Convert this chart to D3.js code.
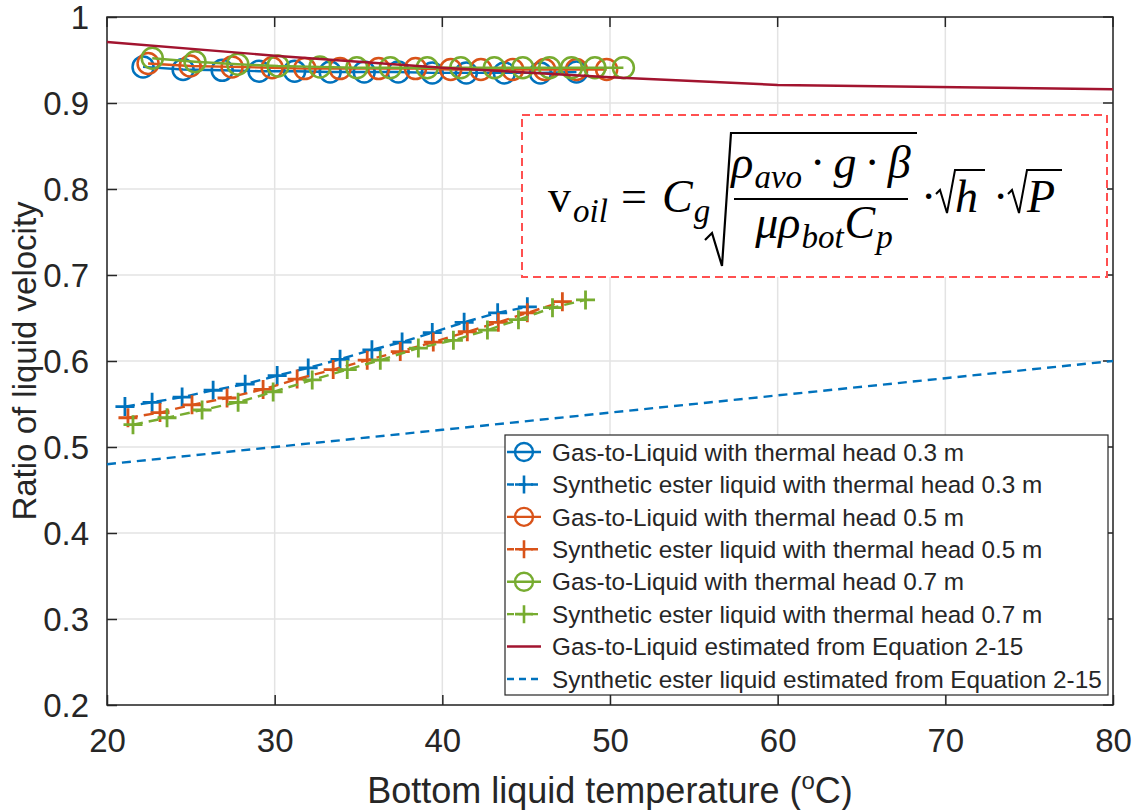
<!DOCTYPE html>
<html><head><meta charset="utf-8">
<script src="https://cdn.jsdelivr.net/npm/d3@7"></script>
<style>
body{margin:0;background:#fff;}
svg text{font-family:"Liberation Sans",Arial,Helvetica,sans-serif;fill:#262626;}
.eq text{font-family:"Liberation Serif","DejaVu Serif",serif;fill:#000;}
</style>
</head><body>
<svg id="c" width="1134" height="810"></svg>
<script>
// ---------- data ----------
const xTicks = [20, 30, 40, 50, 60, 70, 80];
const yTicks = [0.2, 0.3, 0.4, 0.5, 0.6, 0.7, 0.8, 0.9, 1];
const yTickLabels = ["0.2","0.3","0.4","0.5","0.6","0.7","0.8","0.9","1"];

const gtl03X = [22.15, 24.54, 26.87, 29.07, 31.19, 33.31, 35.34, 37.37, 39.40, 41.43, 43.70, 45.85, 48.0];
const gtl03Y = [0.942, 0.939, 0.938, 0.937, 0.937, 0.936, 0.936, 0.936, 0.935, 0.935, 0.935, 0.935, 0.936];

const se03X = [21.07, 22.69, 24.48, 26.33, 28.24, 30.15, 32.0, 33.9, 35.8, 37.6, 39.4, 41.3, 43.3, 45.07];
const se03Y = [0.547, 0.552, 0.558, 0.566, 0.573, 0.583, 0.592, 0.602, 0.613, 0.622, 0.633, 0.645, 0.656, 0.663];

const gtl05X = [22.45, 24.96, 27.46, 29.85, 31.8, 33.9, 36.2, 38.4, 40.5, 42.3, 44.2, 46.1, 48.0, 49.8];
const gtl05Y = [0.946, 0.943, 0.942, 0.941, 0.940, 0.940, 0.940, 0.940, 0.939, 0.939, 0.939, 0.939, 0.939, 0.939];

const se05X = [21.25, 23.16, 25.07, 27.16, 29.31, 31.34, 33.49, 35.52, 37.49, 39.46, 41.49, 43.34, 45.07, 47.16];
const se05Y = [0.534, 0.540, 0.549, 0.557, 0.567, 0.579, 0.590, 0.601, 0.611, 0.622, 0.634, 0.645, 0.656, 0.669];

const gtl07X = [22.7, 25.25, 27.8, 30.2, 32.7, 34.9, 36.9, 39.1, 41.1, 43.1, 44.8, 46.4, 47.7, 49.1, 50.8];
const gtl07Y = [0.952, 0.948, 0.945, 0.943, 0.942, 0.941, 0.941, 0.941, 0.941, 0.941, 0.941, 0.941, 0.941, 0.941, 0.941];

const se07X = [21.55, 23.58, 25.67, 27.82, 29.91, 32.24, 34.33, 36.3, 38.57, 40.66, 42.69, 44.54, 46.57, 48.54];
const se07Y = [0.526, 0.534, 0.543, 0.552, 0.564, 0.578, 0.590, 0.601, 0.615, 0.624, 0.636, 0.648, 0.662, 0.671];

const gtlEstX = [20, 30, 40, 50, 60, 80];
const gtlEstY = [0.971, 0.955, 0.941, 0.930, 0.921, 0.916];

const seEstX = [20, 30, 40, 50, 60, 70, 80];
const seEstY = [0.48, 0.50, 0.52, 0.54, 0.56, 0.58, 0.60];

const seriesNames = [
  "Gas-to-Liquid with thermal head 0.3 m",
  "Synthetic ester liquid with thermal head 0.3 m",
  "Gas-to-Liquid with thermal head 0.5 m",
  "Synthetic ester liquid with thermal head 0.5 m",
  "Gas-to-Liquid with thermal head 0.7 m",
  "Synthetic ester liquid with thermal head 0.7 m",
  "Gas-to-Liquid estimated from Equation 2-15",
  "Synthetic ester liquid estimated from Equation 2-15"
];

// ---------- styles ----------
const C_BLUE = "#0072BD", C_ORANGE = "#D95319", C_GREEN = "#77AC30", C_RED = "#A2142F";
const series = [
  {x: gtl03X, y: gtl03Y, color: C_BLUE,   marker: "o", dash: null},
  {x: se03X,  y: se03Y,  color: C_BLUE,   marker: "+", dash: "10,6"},
  {x: gtl05X, y: gtl05Y, color: C_ORANGE, marker: "o", dash: null},
  {x: se05X,  y: se05Y,  color: C_ORANGE, marker: "+", dash: "10,6"},
  {x: gtl07X, y: gtl07Y, color: C_GREEN,  marker: "o", dash: null},
  {x: se07X,  y: se07Y,  color: C_GREEN,  marker: "+", dash: "10,6"},
  {x: gtlEstX, y: gtlEstY, color: C_RED,  marker: null, dash: null},
  {x: seEstX,  y: seEstY,  color: C_BLUE, marker: null, dash: "9,6"}
];

const L = 107, R = 1113, T = 17, B = 705;
const svg = d3.select("#c");
const x = d3.scaleLinear().domain([20, 80]).range([L, R]);
const y = d3.scaleLinear().domain([0.2, 1]).range([B, T]);

// grid
const grid = svg.append("g");
grid.selectAll("line.gx").data(xTicks).join("line")
  .attr("x1", d => x(d)).attr("x2", d => x(d)).attr("y1", T).attr("y2", B)
  .attr("stroke", "#e3e3e3").attr("stroke-width", 1.5);
grid.selectAll("line.gy").data(yTicks).join("line")
  .attr("y1", d => y(d)).attr("y2", d => y(d)).attr("x1", L).attr("x2", R)
  .attr("stroke", "#e3e3e3").attr("stroke-width", 1.5);

// axes
const xAxis = d3.axisBottom(x).tickValues(xTicks).tickSizeInner(-10).tickSizeOuter(0).tickPadding(22);
const yAxis = d3.axisLeft(y).tickValues(yTicks).tickFormat((d, i) => yTickLabels[i]).tickSizeInner(-10).tickSizeOuter(0).tickPadding(18);
const gx = svg.append("g").attr("transform", `translate(0,${B})`).call(xAxis);
const gy = svg.append("g").attr("transform", `translate(${L},0)`).call(yAxis);
[gx, gy].forEach(g => {
  g.select(".domain").remove();
  g.selectAll(".tick line").attr("stroke", "#262626").attr("stroke-width", 1.5);
  g.selectAll(".tick text").attr("font-size", 33).attr("fill", "#262626")
    .style("font-family", "'Liberation Sans',Arial,sans-serif");
});
gx.selectAll(".tick text").attr("dy", "0.75em");
gy.selectAll(".tick text").attr("dy", "0.36em");
// top & right ticks
svg.append("g").selectAll("line").data(xTicks).join("line")
  .attr("x1", d => x(d)).attr("x2", d => x(d)).attr("y1", T).attr("y2", T + 10)
  .attr("stroke", "#262626").attr("stroke-width", 1.5);
svg.append("g").selectAll("line").data(yTicks).join("line")
  .attr("y1", d => y(d)).attr("y2", d => y(d)).attr("x1", R).attr("x2", R - 10)
  .attr("stroke", "#262626").attr("stroke-width", 1.5);
// box
svg.append("rect").attr("x", L).attr("y", T).attr("width", R - L).attr("height", B - T)
  .attr("fill", "none").attr("stroke", "#262626").attr("stroke-width", 1.5);

// data
const plot = svg.append("g");
const line = d3.line().x(d => x(d[0])).y(d => y(d[1]));
function plusPath(cx, cy, s) { return `M${cx - s},${cy}H${cx + s}M${cx},${cy - s}V${cy + s}`; }
series.forEach(s => {
  const pts = s.x.map((v, i) => [v, s.y[i]]);
  plot.append("path").datum(pts).attr("d", line)
    .attr("fill", "none").attr("stroke", s.color).attr("stroke-width", 2.4)
    .attr("stroke-dasharray", s.dash);
  if (s.marker === "o") {
    plot.append("g").selectAll("circle").data(pts).join("circle")
      .attr("cx", d => x(d[0])).attr("cy", d => y(d[1])).attr("r", 10.5)
      .attr("fill", "none").attr("stroke", s.color).attr("stroke-width", 2.5);
  } else if (s.marker === "+") {
    plot.append("g").selectAll("path").data(pts).join("path")
      .attr("d", d => plusPath(x(d[0]), y(d[1]), 9.5))
      .attr("fill", "none").attr("stroke", s.color).attr("stroke-width", 2.8);
  }
});

// equation box
const eq = svg.append("g").attr("class", "eq");
eq.append("rect").attr("x", 522).attr("y", 115).attr("width", 585).attr("height", 162)
  .attr("fill", "#fff").attr("stroke", "#ff5050").attr("stroke-width", 2).attr("stroke-dasharray", "8,5");
const FS = 46, SS = 33;
function run(startX, baseY, pieces) {
  let cx = startX;
  const nodes = [];
  pieces.forEach(p => {
    cx += (p.gap || 0);
    const el = eq.append("text").attr("x", cx).attr("y", baseY + (p.sub ? 10 : 0))
      .attr("font-size", p.sub ? SS : FS).attr("font-style", p.it ? "italic" : "normal").text(p.t);
    nodes.push(el);
    cx += el.node().getComputedTextLength();
  });
  return {nodes, width: cx - startX};
}
function centered(center, baseY, pieces) {
  const r = run(0, baseY, pieces);
  const off = center - r.width / 2;
  r.nodes.forEach(n => n.attr("x", +n.attr("x") + off));
}
run(548, 212, [{t: "v"}, {t: "oil", it: true, sub: true, gap: 2}]);
run(621, 212, [{t: "="}]);
run(662, 212, [{t: "C", it: true}, {t: "g", it: true, sub: true, gap: 1}]);
eq.append("path").attr("d", "M705,240 L712,233 L722,266 L731,133 L917,133")
  .attr("fill", "none").attr("stroke", "#000").attr("stroke-width", 2.2);
centered(821, 178, [{t: "ρ", it: true}, {t: "avo", it: true, sub: true, gap: 1},
  {t: "·", gap: 8}, {t: "g", it: true, gap: 8}, {t: "·", gap: 8}, {t: "β", it: true, gap: 8}]);
eq.append("line").attr("x1", 734).attr("x2", 908).attr("y1", 199).attr("y2", 199)
  .attr("stroke", "#000").attr("stroke-width", 2);
centered(824, 238, [{t: "μ", it: true}, {t: "ρ", it: true}, {t: "bot", it: true, sub: true, gap: 1},
  {t: "C", it: true, gap: 1}, {t: "p", it: true, sub: true, gap: 1}]);
run(921, 212, [{t: "·"}]);
eq.append("path").attr("d", "M936,194 L940,190 L947,213 L955,170 L985,170")
  .attr("fill", "none").attr("stroke", "#000").attr("stroke-width", 2);
run(955, 212, [{t: "h", it: true}]);
run(993, 212, [{t: "·"}]);
eq.append("path").attr("d", "M1008,194 L1012,190 L1019,213 L1027,170 L1062,170")
  .attr("fill", "none").attr("stroke", "#000").attr("stroke-width", 2);
run(1027, 212, [{t: "P", it: true}]);

// legend
const lg = svg.append("g");
lg.append("rect").attr("x", 505).attr("y", 435).attr("width", 603).attr("height", 260)
  .attr("fill", "#fff").attr("stroke", "#262626").attr("stroke-width", 1.2);
const lgY = d3.scalePoint().domain(d3.range(seriesNames.length)).range([452, 679]);
series.forEach((s, i) => {
  const yy = lgY(i);
  lg.append("line").attr("x1", 507).attr("x2", 541).attr("y1", yy).attr("y2", yy)
    .attr("stroke", s.color).attr("stroke-width", 2.4)
    .attr("stroke-dasharray", s.dash ? "7,5" : null);
  if (s.marker === "o") lg.append("circle").attr("cx", 524).attr("cy", yy).attr("r", 9)
    .attr("fill", "none").attr("stroke", s.color).attr("stroke-width", 2.4);
  if (s.marker === "+") lg.append("path").attr("d", plusPath(524, yy, 9))
    .attr("fill", "none").attr("stroke", s.color).attr("stroke-width", 2.6);
  lg.append("text").attr("x", 552).attr("y", yy).attr("dy", "0.36em")
    .attr("font-size", 24.3).attr("fill", "#000").text(seriesNames[i]);
});

// axis titles
const xt = svg.append("text").attr("x", 610).attr("y", 803).attr("text-anchor", "middle")
  .attr("font-size", 36);
xt.append("tspan").text("Bottom liquid temperature (");
xt.append("tspan").attr("font-size", 24).attr("dy", -14).text("o");
xt.append("tspan").attr("dy", 14).text("C)");
svg.append("text").attr("transform", "translate(36,361) rotate(-90)").attr("text-anchor", "middle")
  .attr("font-size", 33).text("Ratio of liquid velocity");
</script>
</body></html>
